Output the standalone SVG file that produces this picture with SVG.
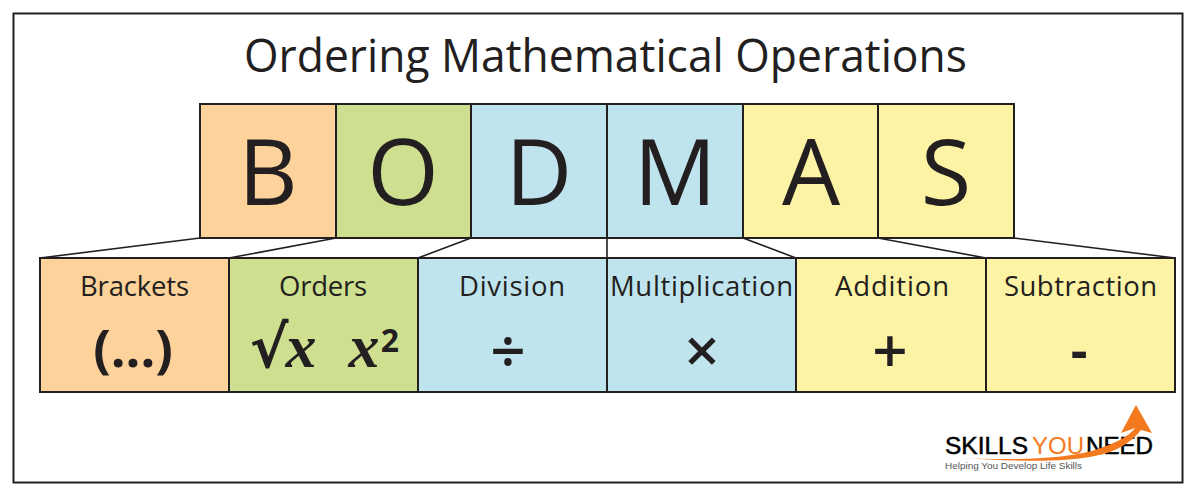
<svg xmlns="http://www.w3.org/2000/svg" width="1200" height="500" viewBox="0 0 1200 500">
<style>
text{font-family:"Open Sans","Noto Sans","Liberation Sans",sans-serif;fill:#231f20;text-anchor:middle}
.box{stroke:#231f20;stroke-width:2}
.or{fill:#fdd39b}.gr{fill:#cee08f}.bl{fill:#bfe4ee}.ye{fill:#fdf3a5}
.big{font-size:92px}
.lab{font-size:27.500px}
.sym{font-size:62px;font-weight:600}
.paren{font-size:52px;font-weight:700}
.math{font-family:"Liberation Serif",serif;font-style:italic;font-weight:700;font-size:62px}
.root{font-family:"DejaVu Sans",sans-serif;font-weight:700;font-size:58px}
.sup{font-weight:700;font-size:32px}
.logo{font-family:"Liberation Sans",sans-serif;text-anchor:start;font-size:23px}
.conn{stroke:#231f20;stroke-width:1.6;fill:none}
</style>
<rect width="1200" height="500" fill="#fff"/>
<rect id="frame" x="13.5" y="13.500" width="1169" height="469" fill="#fff" stroke="#231f20" stroke-width="2"/>
<text id="title" x="605.500" y="72" font-size="45" textLength="723" lengthAdjust="spacingAndGlyphs">Ordering Mathematical Operations</text>
<g id="connectors">
<path class="conn" d="M200 238L40 258M336 238L229 258M471 238L418 258M607 238V258M743 238L796 258M878 238L986 258M1014 238L1175 258"/>
</g>
<g id="top-b"><rect class="box or" x="200" y="104" width="136" height="134"/><text class="big" x="268" y="205">B</text></g>
<g id="top-o"><rect class="box gr" x="336" y="104" width="135" height="134"/><text class="big" x="403" y="205">O</text></g>
<g id="top-d"><rect class="box bl" x="471" y="104" width="136" height="134"/><text class="big" x="539" y="205">D</text></g>
<g id="top-m"><rect class="box bl" x="607" y="104" width="136" height="134"/><text class="big" x="675" y="205">M</text></g>
<g id="top-a"><rect class="box ye" x="743" y="104" width="135" height="134"/><text class="big" x="811" y="205">A</text></g>
<g id="top-s"><rect class="box ye" x="878" y="104" width="136" height="134"/><text class="big" x="946" y="205">S</text></g>
<g id="brackets"><rect class="box or" x="40" y="258" width="189" height="134"/><text class="lab" x="134.500" y="296" textLength="109">Brackets</text><text class="paren" x="133" y="367">(...)</text></g>
<g id="orders"><rect class="box gr" x="229" y="258" width="189" height="134"/><text class="lab" x="323" y="296" textLength="88">Orders</text><text class="root" x="269" y="367">√</text><text class="math" x="301" y="367">x</text><text class="math" x="364" y="367">x</text><text class="sup" x="390" y="352">2</text></g>
<g id="division"><rect class="box bl" x="418" y="258" width="189" height="134"/><text class="lab" x="512" y="296" textLength="106">Division</text><text class="sym" x="508" y="373">÷</text></g>
<g id="multiplication"><rect class="box bl" x="607" y="258" width="189" height="134"/><text class="lab" x="701.500" y="296" textLength="183">Multiplication</text><text class="sym" x="702" y="373">×</text></g>
<g id="addition"><rect class="box ye" x="796" y="258" width="190" height="134"/><text class="lab" x="892" y="296" textLength="114">Addition</text><text class="sym" x="890" y="373">+</text></g>
<g id="subtraction"><rect class="box ye" x="986" y="258" width="189" height="134"/><text class="lab" x="1080.500" y="296" textLength="153">Subtraction</text><text class="paren" x="1079" y="369">-</text></g>
<g id="logo">
<text class="logo" x="945" y="454" textLength="83" lengthAdjust="spacingAndGlyphs" style="fill:#000;stroke:#000;stroke-width:.5">SKILLS</text>
<text class="logo" x="1032" y="454" textLength="52" lengthAdjust="spacingAndGlyphs" style="fill:#f47a20">YOU</text>
<text class="logo" x="1086" y="454" textLength="67" lengthAdjust="spacingAndGlyphs" style="fill:#000;stroke:#000;stroke-width:.5">NEED</text>
<path d="M960 458C1010 460 1060 460 1095 450C1112 444 1128 438 1135 428L1121 433L1136 405L1152 433L1141 430C1130 444 1115 452 1095 456C1060 463 1010 461 960 458Z" fill="#f47a20"/>
<text class="logo" x="945" y="469" textLength="137" lengthAdjust="spacingAndGlyphs" style="font-size:9.500px;fill:#555">Helping You Develop Life Skills</text>
</g>
</svg>
